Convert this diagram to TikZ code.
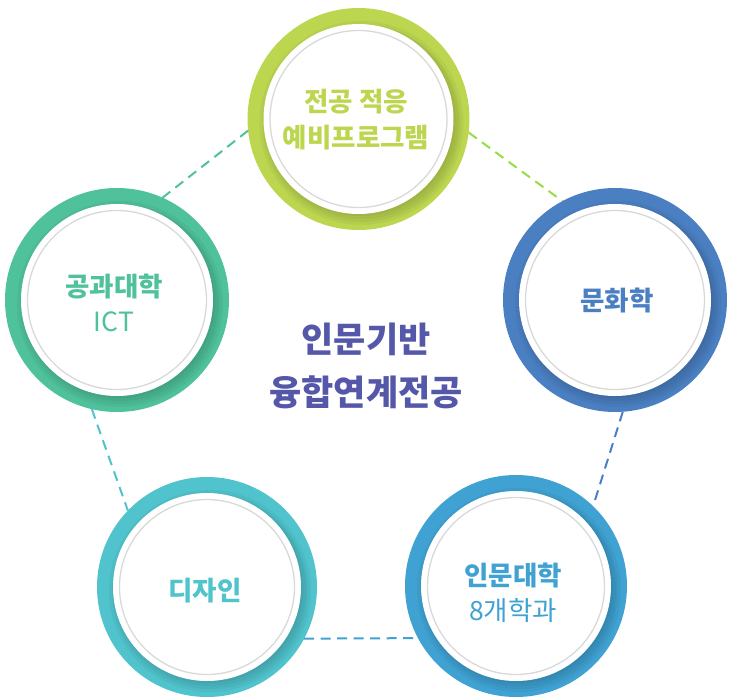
\documentclass[tikz,border=0pt]{standalone}
\usepackage{fontspec}
\newfontfamily\kr{Noto Sans CJK KR}
\definecolor{cTop}{HTML}{BCD650}
\definecolor{cRight}{HTML}{4A80C2}
\definecolor{cLeft}{HTML}{4FC19B}
\definecolor{cBR}{HTML}{3FA2D2}
\definecolor{cBL}{HTML}{50C3CC}
\definecolor{cMid}{HTML}{5558A8}
\definecolor{cGray}{HTML}{D9D9D9}
\newcommand\mkring[5]{%
  \node[circle, inner sep=0pt, outer sep=0pt, minimum size={2*#4pt}, fill=#5] (#1) at (#2,#3) {};
  \begin{scope}
    \clip (#2,#3) circle[radius=#4];
    \fill[black, opacity=0.04] (#2+3,#3+4) circle[radius=#4-9];
    \fill[black, opacity=0.04] (#2+3,#3+4) circle[radius=#4-12];
    \fill[black, opacity=0.04] (#2+3,#3+3) circle[radius=#4-14];
    \fill[black, opacity=0.04] (#2+2,#3+2) circle[radius=#4-16];
  \end{scope}
  \fill[white] (#2,#3) circle[radius=#4-16];
  \draw[cGray, line width=1.3pt] (#2,#3) circle[radius=#4-22.5];
}
\tikzset{
  dline/.style={line width=2pt, dash pattern=on 10pt off 6.5pt},
  lab/.style={font=\kr\fontsize{26.5}{35}\selectfont\bfseries, align=center, inner sep=0pt}
}
\begin{document}
\begin{tikzpicture}[x=1pt,y=-1pt]
\useasboundingbox (0,0) rectangle (729,697);
\mkring{ringT}{358.5}{119}{111}{cTop}
\mkring{ringR}{615}{300}{112}{cRight}
\mkring{ringL}{117}{300}{112}{cLeft}
\mkring{ringBR}{516}{586}{111}{cBR}
\mkring{ringBL}{207}{587}{110}{cBL}

\draw[dline, cLeft] (ringT.186.7) -- (ringL.66.7);
\draw[dline, cTop!80!green] (ringT.-7.5) -- (ringR.118);
\draw[dline, cRight] (ringR.-86) -- (ringBR.46);
\draw[dline, cBR] (ringBL.-28) -- (ringBR.208);
\draw[dline, cBL] (ringL.257.5) -- (ringBL.136.5);

\node[lab, text=cTop, font=\kr\fontsize{26.5}{36}\selectfont\bfseries] (labT) at (356,120) {전공 적응\\예비프로그램};
\node[lab, text=cRight] (labR) at (617,301) {문화학};
\node[lab, text=cLeft] (labL) at (114,303) {공과대학\\{\mdseries ICT}};
\node[lab, text=cBR] (labBR) at (513,593) {인문대학\\{\mdseries 8개학과}};
\node[lab, text=cBL] (labBL) at (205,591) {디자인};
\node[lab, text=cMid, font=\kr\fontsize{35}{53}\selectfont\bfseries] (mid) at (366,366) {인문기반\\융합연계전공};
\end{tikzpicture}
\end{document}
